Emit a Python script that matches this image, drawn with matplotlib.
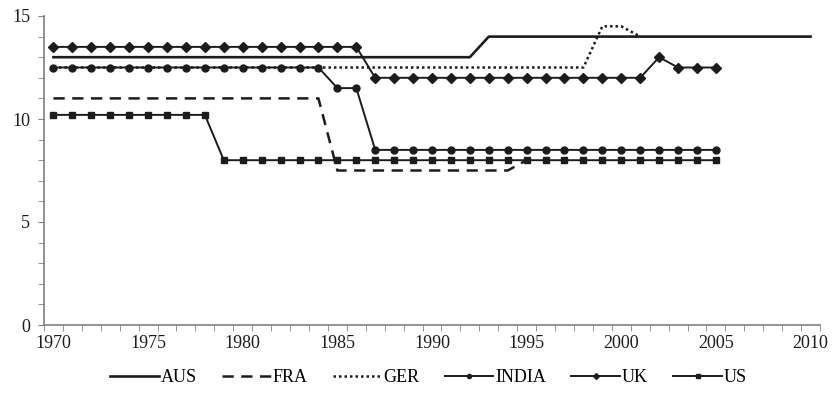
import numpy as np
import matplotlib.pyplot as plt

# data
years_all = list(range(1970, 2011))
aus = [13.0] * 23 + [14.0] * 18                      # 1970-2010
fra_years = list(range(1970, 1996))
fra = [11.0] * 15 + [7.5] * 10 + [8.0]               # 1970-1995
ger_years = list(range(1970, 2002))
ger = [12.5] * 29 + [14.5, 14.5, 14.0]               # 1970-2001
years_05 = list(range(1970, 2006))
india = [12.5] * 15 + [11.5, 11.5] + [8.5] * 19      # 1970-2005
uk = [13.5] * 17 + [12.0] * 15 + [13.0] + [12.5] * 3
us = [10.2] * 9 + [8.0] * 27

ink = '#1c1c1c'
plt.rcParams['font.family'] = ['Liberation Serif', 'DejaVu Serif']

fig = plt.figure(figsize=(8.32, 3.97), dpi=100, facecolor='w')
ax = fig.add_axes([44 / 832, 1 - 325 / 397, 776 / 832, 309 / 397])

ax.plot(ger_years, ger, color=ink, lw=1.8, linestyle=(0, (1, 1.2)), label='GER')
ax.plot(years_all, aus, color=ink, lw=1.9, label='AUS')
ax.plot(fra_years, fra, color=ink, lw=1.8, linestyle=(0, (4.5, 3)), label='FRA')
ax.plot(years_05, india, color=ink, lw=1.4, marker='o', ms=5, label='INDIA')
ax.plot(years_05, uk, color=ink, lw=1.4, marker='D', ms=5, label='UK')
ax.plot(years_05, us, color=ink, lw=1.4, marker='s', ms=5, label='US')

ax.set_xlim(1969.5, 2010.5)
ax.set_ylim(0, 15)
ax.set_xticks(range(1970, 2011, 5))
ax.set_xticks(np.arange(1969.5, 2011, 1), minor=True)
ax.set_yticks([0, 5, 10, 15])
ax.set_yticks(range(0, 16), minor=True)
ax.tick_params(axis='x', which='major', length=0, pad=7, labelsize=13, colors=ink)
ax.tick_params(axis='x', which='minor', length=4, color='#808080')
ax.tick_params(axis='y', which='both', length=4, color='#808080', labelsize=13,
               labelcolor=ink, pad=6)

for side in ['top', 'right']:
    ax.spines[side].set_visible(False)
for side in ['left', 'bottom']:
    ax.spines[side].set_color('#808080')
    ax.spines[side].set_linewidth(1.2)

# legend in the reference order
handles, labels = ax.get_legend_handles_labels()
order = ['AUS', 'FRA', 'GER', 'INDIA', 'UK', 'US']
h = [handles[labels.index(k)] for k in order]
fig.legend(h, order, loc='center', bbox_to_anchor=(0.515, 0.048), ncol=6,
           frameon=False, fontsize=13, handlelength=2.7, handletextpad=0.1,
           columnspacing=1.4, markerscale=0.6)

fig.savefig('out.png', dpi=100)
